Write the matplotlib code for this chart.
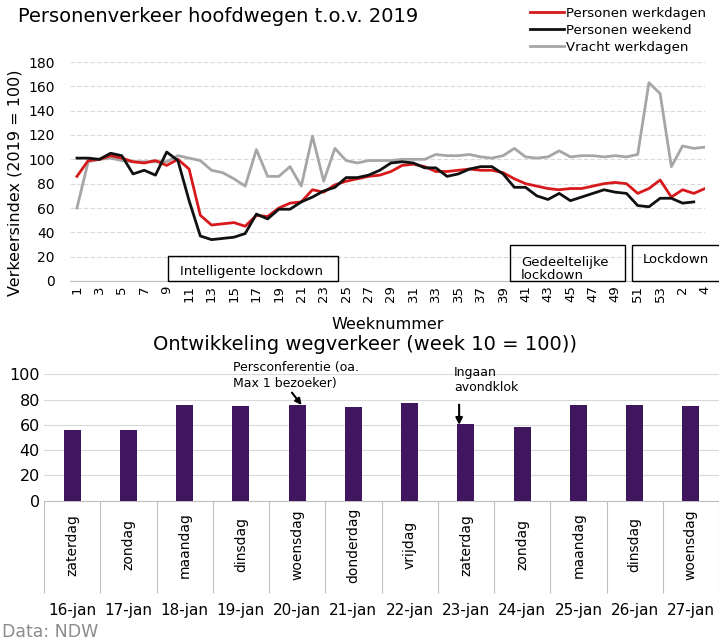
#Personenverkeer hoofdwegen + ontwikkeling wegverkeer

import numpy as np
import matplotlib.pyplot as plt
import matplotlib.transforms as mtransforms
from matplotlib.patches import Rectangle

#weekly index (2019 = 100), week 1 2020 .. week 4 2021
weeks = [str(w) for w in range(1, 54)] + ['1', '2', '3', '4']

werkdagen = [86, 99, 100, 103, 101, 98, 97, 99, 95, 100,
             92, 54, 46, 47, 48, 45, 54, 53, 60, 64,
             65, 75, 73, 79, 82, 84, 86, 87, 90, 95,
             96, 94, 90, 90, 91, 92, 91, 91, 89, 84,
             80, 78, 76, 75, 76, 76, 78, 80, 81, 80,
             72, 76, 83, 69, 75, 72, 76]

weekend = [101, 101, 100, 105, 103, 88, 91, 87, 106, 99,
           66, 37, 34, 35, 36, 39, 55, 51, 59, 59,
           65, 69, 74, 77, 85, 85, 87, 91, 97, 98,
           97, 93, 93, 86, 88, 92, 94, 94, 88, 77,
           77, 70, 67, 72, 66, 69, 72, 75, 73, 72,
           62, 61, 68, 68, 64, 65, np.nan]

vracht = [60, 98, 100, 101, 99, 98, 98, 98, 98, 103,
          101, 99, 91, 89, 84, 78, 108, 86, 86, 94,
          78, 119, 82, 109, 99, 97, 99, 99, 99, 100,
          100, 100, 104, 103, 103, 104, 102, 101, 103, 109,
          102, 101, 102, 107, 102, 103, 103, 102, 103, 102,
          104, 163, 154, 94, 111, 109, 110]

#daily index (week 10 = 100)
dagen = ['zaterdag', 'zondag', 'maandag', 'dinsdag', 'woensdag', 'donderdag',
         'vrijdag', 'zaterdag', 'zondag', 'maandag', 'dinsdag', 'woensdag']
datums = ['16-jan', '17-jan', '18-jan', '19-jan', '20-jan', '21-jan',
          '22-jan', '23-jan', '24-jan', '25-jan', '26-jan', '27-jan']
index_dag = [56, 56, 76, 75, 76, 74, 77, 61, 58, 76, 76, 75]

fig = plt.figure(figsize=(7.19, 6.40), dpi=100)

#top chart
ax1 = fig.add_axes([70/719, 1-281/640, 635/719, 219/640])
x = np.arange(len(weeks))
l3, = ax1.plot(x, vracht, color='#a6a6a6', lw=2)
l1, = ax1.plot(x, werkdagen, color='#d7191c', lw=2)
l2, = ax1.plot(x, weekend, color='#111111', lw=2)
ax1.set_xlim(-0.62, 56)
ax1.set_ylim(0, 180)
ax1.set_yticks(range(0, 181, 20))
ax1.set_xticks(x[::2])
ax1.set_xticklabels(weeks[::2], rotation=90, fontsize=9.5)
ax1.tick_params(axis='y', length=0, pad=11, labelsize=10)
ax1.tick_params(axis='x', length=0, pad=3)
ax1.grid(axis='y', color='#d9d9d9', ls=(0, (4, 2)), lw=0.8)
ax1.set_axisbelow(True)
for s in ['top', 'right', 'left']:
    ax1.spines[s].set_visible(False)
ax1.spines['bottom'].set_color('#bfbfbf')
ax1.set_ylabel('Verkeersindex (2019 = 100)', fontsize=11.5)
ax1.yaxis.set_label_coords(-0.075, 0.447)
ax1.set_xlabel('Weeknummer', fontsize=11.5, labelpad=11)

#lockdown boxes
ax1.add_patch(Rectangle((8.1, 0), 15.2, 20.5, fill=False, ec='black', lw=1, clip_on=False, zorder=4))
ax1.text(15.6, 8.2, 'Intelligente lockdown', ha='center', va='center', fontsize=9.5)
ax1.add_patch(Rectangle((38.6, 0), 10.3, 29.5, fill=False, ec='black', lw=1, clip_on=False, zorder=4))
ax1.text(39.6, 9.5, 'Gedeeltelijke\nlockdown', ha='left', va='center', fontsize=9.5, linespacing=1.0)
ax1.add_patch(Rectangle((49.5, 0), 7.8, 29.5, fill=False, ec='black', lw=1, clip_on=False, zorder=4))
ax1.text(53.4, 17.3, 'Lockdown', ha='center', va='center', fontsize=9.5)

fig.legend([l1, l2, l3], ['Personen werkdagen', 'Personen weekend', 'Vracht werkdagen'],
           loc='upper left', bbox_to_anchor=(530/719, 1-7/640), frameon=False,
           fontsize=9.5, handlelength=2.6, handletextpad=0.15, labelspacing=0.3,
           borderaxespad=0, borderpad=0)

fig.text(18/719, 1-17/640, 'Personenverkeer hoofdwegen t.o.v. 2019', ha='left', va='center', fontsize=14)

#bottom chart
ax2 = fig.add_axes([44/719, 1-500.7/640, 675/719, 126.4/640])
xb = np.arange(len(dagen))
ax2.bar(xb, index_dag, width=0.3, color='#40175f', zorder=3)
ax2.set_xlim(-0.5, 11.5)
ax2.set_ylim(0, 100)
ax2.set_yticks(range(0, 101, 20))
ax2.tick_params(axis='y', length=0, pad=3, labelsize=11.5)
ax2.grid(axis='y', color='#d9d9d9', lw=0.8)
ax2.set_axisbelow(True)
for s in ['top', 'right', 'left']:
    ax2.spines[s].set_visible(False)
ax2.spines['bottom'].set_color('#bfbfbf')

#two level category axis
ax2.set_xticks(xb)
ax2.set_xticklabels([])
ax2.set_xticks(np.arange(-0.5, 12, 1), minor=True)
ax2.tick_params(axis='x', which='major', length=0)
ax2.tick_params(axis='x', which='minor', length=66, color='#bfbfbf', width=0.8)
trans = mtransforms.blended_transform_factory(ax2.transData, ax2.transAxes)
for i in xb:
    ax2.text(i, -0.35, dagen[i], rotation=90, ha='center', va='center', fontsize=10, transform=trans)
    ax2.text(i, -0.865, datums[i], ha='center', va='center', fontsize=11, transform=trans)

ax2.annotate('Persconferentie (oa.\nMax 1 bezoeker)', xy=(4.08, 75.7), xytext=(2.86, 99),
             ha='left', va='center', fontsize=9, linespacing=1.25, annotation_clip=False,
             arrowprops=dict(arrowstyle='-|>', color='black', lw=1.5, shrinkA=0, shrinkB=0,
                             relpos=(0.45, 0)))
ax2.annotate('', xy=(6.88, 60), xytext=(6.88, 76), annotation_clip=False,
             arrowprops=dict(arrowstyle='-|>', color='black', lw=1.5, shrinkA=0, shrinkB=0))
ax2.text(6.79, 95.5, 'Ingaan\navondklok', ha='left', va='center', fontsize=9, linespacing=1.25)

fig.text(365/719, 1-344/640, 'Ontwikkeling wegverkeer (week 10 = 100))', ha='center', va='center', fontsize=14)
fig.text(2/719, 1-632/640, 'Data: NDW', ha='left', va='center', fontsize=12.5, color='#8c8c8c')

plt.savefig('out.png', dpi=100)
